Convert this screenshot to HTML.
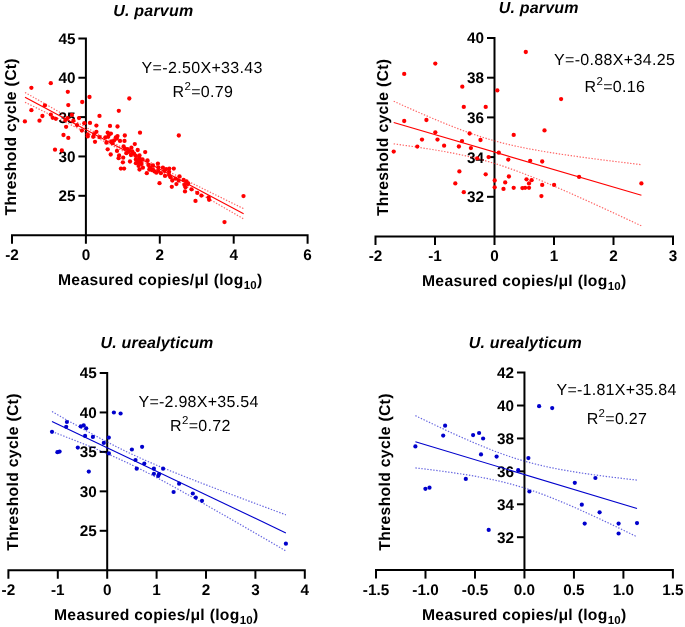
<!DOCTYPE html>
<html><head><meta charset="utf-8"><style>html,body{margin:0;padding:0;background:#fff;}svg{display:block;will-change:transform;}</style></head>
<body><svg width="685" height="627" viewBox="0 0 685 627" font-family="'Liberation Sans', sans-serif" text-rendering="geometricPrecision"><path d="M78.40,38.40H85.90V243.65" fill="none" stroke="#000" stroke-width="2"/>
<path d="M12.00,243.65V235.15H307.60V243.65" fill="none" stroke="#000" stroke-width="2"/>
<path d="M78.40,195.80H85.90" stroke="#000" stroke-width="2"/>
<path d="M78.40,156.45H85.90" stroke="#000" stroke-width="2"/>
<path d="M78.40,117.10H85.90" stroke="#000" stroke-width="2"/>
<path d="M78.40,77.75H85.90" stroke="#000" stroke-width="2"/>
<path d="M159.80,235.15V243.65" stroke="#000" stroke-width="2"/>
<path d="M233.70,235.15V243.65" stroke="#000" stroke-width="2"/>
<text x="75.40" y="201.20" text-anchor="end" font-weight="bold" font-size="15.3">25</text>
<text x="75.40" y="161.85" text-anchor="end" font-weight="bold" font-size="15.3">30</text>
<text x="75.40" y="122.50" text-anchor="end" font-weight="bold" font-size="15.3">35</text>
<text x="75.40" y="83.15" text-anchor="end" font-weight="bold" font-size="15.3">40</text>
<text x="75.40" y="43.80" text-anchor="end" font-weight="bold" font-size="15.3">45</text>
<text x="12.00" y="260.15" text-anchor="middle" font-weight="bold" font-size="15.3">-2</text>
<text x="85.90" y="260.15" text-anchor="middle" font-weight="bold" font-size="15.3">0</text>
<text x="159.80" y="260.15" text-anchor="middle" font-weight="bold" font-size="15.3">2</text>
<text x="233.70" y="260.15" text-anchor="middle" font-weight="bold" font-size="15.3">4</text>
<text x="307.60" y="260.15" text-anchor="middle" font-weight="bold" font-size="15.3">6</text>
<text x="58.00" y="285.40" font-weight="bold" font-size="15.7" letter-spacing="0.3">Measured copies/μl (log<tspan font-size="11.5" dy="3.5">10</tspan><tspan dy="-3.5">)</tspan></text>
<text transform="translate(16.40,136.80) rotate(-90)" x="0" y="0" text-anchor="middle" font-weight="bold" font-size="15.7" letter-spacing="0.33">Threshold cycle (Ct)</text>
<text x="153.30" y="15.50" text-anchor="middle" font-weight="bold" font-style="italic" font-size="16" letter-spacing="0.2">U. parvum</text>
<text x="141.60" y="73.20" font-size="16" letter-spacing="0.33">Y=-2.50X+33.43</text>
<text x="172.60" y="96.80" font-size="16" letter-spacing="0.3">R<tspan font-size="11.5" dy="-7.3">2</tspan><tspan dy="7.3">=0.79</tspan></text>
<polyline points="25.00,92.42 28.64,94.51 32.29,96.60 35.93,98.69 39.57,100.78 43.22,102.87 46.86,104.96 50.50,107.04 54.15,109.13 57.79,111.22 61.43,113.30 65.08,115.38 68.72,117.46 72.36,119.54 76.01,121.62 79.65,123.69 83.29,125.76 86.94,127.83 90.58,129.90 94.22,131.96 97.87,134.01 101.51,136.06 105.15,138.10 108.80,140.14 112.44,142.16 116.08,144.17 119.73,146.17 123.37,148.16 127.01,150.13 130.66,152.09 134.30,154.02 137.94,155.95 141.59,157.85 145.23,159.74 148.87,161.62 152.52,163.48 156.16,165.34 159.80,167.18 163.45,169.02 167.09,170.85 170.73,172.67 174.38,174.49 178.02,176.30 181.66,178.12 185.31,179.92 188.95,181.73 192.59,183.53 196.24,185.33 199.88,187.13 203.52,188.93 207.17,190.72 210.81,192.52 214.45,194.31 218.10,196.11 221.74,197.90 225.38,199.69 229.03,201.48 232.67,203.27 236.31,205.06 239.96,206.85 243.60,208.64" fill="none" stroke="#ff0000" stroke-width="1.2" stroke-dasharray="1.4 1.6" opacity="0.6"/>
<polyline points="25.00,102.24 28.64,104.02 32.29,105.81 35.93,107.60 39.57,109.39 43.22,111.19 46.86,112.98 50.50,114.77 54.15,116.57 57.79,118.36 61.43,120.16 65.08,121.95 68.72,123.75 72.36,125.56 76.01,127.36 79.65,129.16 83.29,130.97 86.94,132.78 90.58,134.60 94.22,136.42 97.87,138.24 101.51,140.08 105.15,141.91 108.80,143.76 112.44,145.62 116.08,147.48 119.73,149.36 123.37,151.26 127.01,153.16 130.66,155.09 134.30,157.03 137.94,158.99 141.59,160.96 145.23,162.95 148.87,164.96 152.52,166.97 156.16,169.00 159.80,171.03 163.45,173.08 167.09,175.13 170.73,177.18 174.38,179.25 178.02,181.31 181.66,183.38 185.31,185.45 188.95,187.53 192.59,189.60 196.24,191.68 199.88,193.76 203.52,195.85 207.17,197.93 210.81,200.02 214.45,202.10 218.10,204.19 221.74,206.28 225.38,208.37 229.03,210.46 232.67,212.55 236.31,214.64 239.96,216.73 243.60,218.82" fill="none" stroke="#ff0000" stroke-width="1.2" stroke-dasharray="1.4 1.6" opacity="0.6"/>
<path d="M25.00,97.33L243.60,213.73" stroke="#ff0000" stroke-width="1.1"/>
<g fill="#ff0000"><circle cx="31.4" cy="87.8" r="2.15"/><circle cx="50.8" cy="83.2" r="2.15"/><circle cx="67.8" cy="91.8" r="2.15"/><circle cx="89.5" cy="97.0" r="2.15"/><circle cx="82.2" cy="102.0" r="2.15"/><circle cx="68.3" cy="105.1" r="2.15"/><circle cx="44.9" cy="105.4" r="2.15"/><circle cx="31.4" cy="110.2" r="2.15"/><circle cx="42.4" cy="116.0" r="2.15"/><circle cx="50.8" cy="114.6" r="2.15"/><circle cx="52.7" cy="117.8" r="2.15"/><circle cx="55.9" cy="118.8" r="2.15"/><circle cx="24.9" cy="121.4" r="2.15"/><circle cx="39.5" cy="120.7" r="2.15"/><circle cx="71.9" cy="114.9" r="2.15"/><circle cx="67.6" cy="118.1" r="2.15"/><circle cx="65.4" cy="120.0" r="2.15"/><circle cx="73.4" cy="120.7" r="2.15"/><circle cx="79.0" cy="118.1" r="2.15"/><circle cx="84.3" cy="123.2" r="2.15"/><circle cx="77.0" cy="125.1" r="2.15"/><circle cx="66.1" cy="126.8" r="2.15"/><circle cx="81.9" cy="130.6" r="2.15"/><circle cx="63.5" cy="135.0" r="2.15"/><circle cx="68.3" cy="137.9" r="2.15"/><circle cx="55.0" cy="149.7" r="2.15"/><circle cx="61.8" cy="150.5" r="2.15"/><circle cx="129.3" cy="98.5" r="2.15"/><circle cx="118.8" cy="110.8" r="2.15"/><circle cx="99.5" cy="115.9" r="2.15"/><circle cx="90.0" cy="122.9" r="2.15"/><circle cx="96.4" cy="125.6" r="2.15"/><circle cx="110.0" cy="125.9" r="2.15"/><circle cx="117.5" cy="126.5" r="2.15"/><circle cx="140.0" cy="132.7" r="2.15"/><circle cx="96.4" cy="131.8" r="2.15"/><circle cx="87.7" cy="134.5" r="2.15"/><circle cx="87.7" cy="136.4" r="2.15"/><circle cx="93.2" cy="136.8" r="2.15"/><circle cx="94.1" cy="134.1" r="2.15"/><circle cx="99.5" cy="137.1" r="2.15"/><circle cx="95.0" cy="141.8" r="2.15"/><circle cx="107.7" cy="132.7" r="2.15"/><circle cx="110.9" cy="133.6" r="2.15"/><circle cx="109.1" cy="134.5" r="2.15"/><circle cx="105.5" cy="137.3" r="2.15"/><circle cx="108.2" cy="136.8" r="2.15"/><circle cx="117.5" cy="136.1" r="2.15"/><circle cx="124.8" cy="135.5" r="2.15"/><circle cx="120.0" cy="140.9" r="2.15"/><circle cx="124.5" cy="140.9" r="2.15"/><circle cx="106.4" cy="142.7" r="2.15"/><circle cx="111.4" cy="141.4" r="2.15"/><circle cx="114.1" cy="140.5" r="2.15"/><circle cx="116.8" cy="138.6" r="2.15"/><circle cx="112.3" cy="143.2" r="2.15"/><circle cx="134.8" cy="144.1" r="2.15"/><circle cx="107.7" cy="149.3" r="2.15"/><circle cx="110.7" cy="154.5" r="2.15"/><circle cx="117.0" cy="150.9" r="2.15"/><circle cx="119.1" cy="155.5" r="2.15"/><circle cx="118.6" cy="158.2" r="2.15"/><circle cx="123.2" cy="157.7" r="2.15"/><circle cx="122.9" cy="162.3" r="2.15"/><circle cx="120.9" cy="168.6" r="2.15"/><circle cx="124.1" cy="168.6" r="2.15"/><circle cx="130.0" cy="161.5" r="2.15"/><circle cx="123.6" cy="146.4" r="2.15"/><circle cx="125.0" cy="148.6" r="2.15"/><circle cx="127.7" cy="149.1" r="2.15"/><circle cx="131.4" cy="147.7" r="2.15"/><circle cx="129.5" cy="150.9" r="2.15"/><circle cx="126.4" cy="153.2" r="2.15"/><circle cx="132.3" cy="151.4" r="2.15"/><circle cx="134.1" cy="153.6" r="2.15"/><circle cx="137.7" cy="150.0" r="2.15"/><circle cx="130.9" cy="155.0" r="2.15"/><circle cx="135.9" cy="155.9" r="2.15"/><circle cx="139.5" cy="155.5" r="2.15"/><circle cx="135.9" cy="159.5" r="2.15"/><circle cx="139.5" cy="158.6" r="2.15"/><circle cx="135.9" cy="163.2" r="2.15"/><circle cx="138.6" cy="162.3" r="2.15"/><circle cx="140.5" cy="161.4" r="2.15"/><circle cx="138.6" cy="165.9" r="2.15"/><circle cx="139.5" cy="169.5" r="2.15"/><circle cx="115.9" cy="137.3" r="2.15"/><circle cx="178.8" cy="135.5" r="2.15"/><circle cx="145.2" cy="152.1" r="2.15"/><circle cx="142.5" cy="159.5" r="2.15"/><circle cx="147.5" cy="160.5" r="2.15"/><circle cx="142.9" cy="167.7" r="2.15"/><circle cx="148.4" cy="165.0" r="2.15"/><circle cx="152.9" cy="165.5" r="2.15"/><circle cx="157.9" cy="163.6" r="2.15"/><circle cx="158.4" cy="167.3" r="2.15"/><circle cx="162.9" cy="167.7" r="2.15"/><circle cx="166.1" cy="169.1" r="2.15"/><circle cx="169.3" cy="168.6" r="2.15"/><circle cx="173.8" cy="168.6" r="2.15"/><circle cx="152.9" cy="169.5" r="2.15"/><circle cx="149.3" cy="169.5" r="2.15"/><circle cx="146.8" cy="173.2" r="2.15"/><circle cx="156.4" cy="172.7" r="2.15"/><circle cx="154.5" cy="171.4" r="2.15"/><circle cx="158.2" cy="170.9" r="2.15"/><circle cx="160.9" cy="173.2" r="2.15"/><circle cx="165.0" cy="175.9" r="2.15"/><circle cx="159.5" cy="183.2" r="2.15"/><circle cx="169.1" cy="175.0" r="2.15"/><circle cx="170.5" cy="177.3" r="2.15"/><circle cx="172.3" cy="180.5" r="2.15"/><circle cx="175.5" cy="178.6" r="2.15"/><circle cx="179.5" cy="176.4" r="2.15"/><circle cx="178.6" cy="180.5" r="2.15"/><circle cx="176.4" cy="184.1" r="2.15"/><circle cx="171.8" cy="186.8" r="2.15"/><circle cx="183.6" cy="180.0" r="2.15"/><circle cx="184.5" cy="185.0" r="2.15"/><circle cx="185.0" cy="191.4" r="2.15"/><circle cx="169.1" cy="171.8" r="2.15"/><circle cx="164.5" cy="170.9" r="2.15"/><circle cx="150.0" cy="167.3" r="2.15"/><circle cx="151.8" cy="170.0" r="2.15"/><circle cx="185.5" cy="187.3" r="2.15"/><circle cx="188.2" cy="183.6" r="2.15"/><circle cx="187.7" cy="184.1" r="2.15"/><circle cx="186.5" cy="181.5" r="2.15"/><circle cx="191.5" cy="189.3" r="2.15"/><circle cx="197.3" cy="192.9" r="2.15"/><circle cx="201.4" cy="195.6" r="2.15"/><circle cx="208.6" cy="197.3" r="2.15"/><circle cx="209.1" cy="199.8" r="2.15"/><circle cx="195.5" cy="200.9" r="2.15"/><circle cx="243.5" cy="196.1" r="2.15"/><circle cx="224.5" cy="222.1" r="2.15"/><circle cx="137.8" cy="160.5" r="2.15"/><circle cx="141.5" cy="164.0" r="2.15"/><circle cx="128.0" cy="151.8" r="2.15"/></g>
<path d="M487.00,38.00H494.50V245.00" fill="none" stroke="#000" stroke-width="2"/>
<path d="M375.50,245.00V236.50H673.00V245.00" fill="none" stroke="#000" stroke-width="2"/>
<path d="M487.00,196.80H494.50" stroke="#000" stroke-width="2"/>
<path d="M487.00,157.10H494.50" stroke="#000" stroke-width="2"/>
<path d="M487.00,117.40H494.50" stroke="#000" stroke-width="2"/>
<path d="M487.00,77.70H494.50" stroke="#000" stroke-width="2"/>
<path d="M435.00,236.50V245.00" stroke="#000" stroke-width="2"/>
<path d="M554.00,236.50V245.00" stroke="#000" stroke-width="2"/>
<path d="M613.50,236.50V245.00" stroke="#000" stroke-width="2"/>
<text x="484.00" y="202.20" text-anchor="end" font-weight="bold" font-size="15.3">32</text>
<text x="484.00" y="162.50" text-anchor="end" font-weight="bold" font-size="15.3">34</text>
<text x="484.00" y="122.80" text-anchor="end" font-weight="bold" font-size="15.3">36</text>
<text x="484.00" y="83.10" text-anchor="end" font-weight="bold" font-size="15.3">38</text>
<text x="484.00" y="43.40" text-anchor="end" font-weight="bold" font-size="15.3">40</text>
<text x="375.50" y="260.80" text-anchor="middle" font-weight="bold" font-size="15.3">-2</text>
<text x="435.00" y="260.80" text-anchor="middle" font-weight="bold" font-size="15.3">-1</text>
<text x="494.50" y="260.80" text-anchor="middle" font-weight="bold" font-size="15.3">0</text>
<text x="554.00" y="260.80" text-anchor="middle" font-weight="bold" font-size="15.3">1</text>
<text x="613.50" y="260.80" text-anchor="middle" font-weight="bold" font-size="15.3">2</text>
<text x="673.00" y="260.80" text-anchor="middle" font-weight="bold" font-size="15.3">3</text>
<text x="422.00" y="286.40" font-weight="bold" font-size="15.7" letter-spacing="0.3">Measured copies/μl (log<tspan font-size="11.5" dy="3.5">10</tspan><tspan dy="-3.5">)</tspan></text>
<text transform="translate(387.50,137.40) rotate(-90)" x="0" y="0" text-anchor="middle" font-weight="bold" font-size="15.7" letter-spacing="0.33">Threshold cycle (Ct)</text>
<text x="538.70" y="13.40" text-anchor="middle" font-weight="bold" font-style="italic" font-size="16" letter-spacing="0.2">U. parvum</text>
<text x="554.00" y="65.20" font-size="16" letter-spacing="0.33">Y=-0.88X+34.25</text>
<text x="584.60" y="92.20" font-size="16" letter-spacing="0.3">R<tspan font-size="11.5" dy="-7.3">2</tspan><tspan dy="7.3">=0.16</tspan></text>
<polyline points="393.70,101.25 397.83,103.12 401.96,104.97 406.08,106.82 410.21,108.66 414.34,110.48 418.47,112.30 422.60,114.09 426.73,115.88 430.85,117.64 434.98,119.39 439.11,121.11 443.24,122.81 447.37,124.49 451.50,126.13 455.62,127.75 459.75,129.33 463.88,130.87 468.01,132.37 472.14,133.82 476.27,135.23 480.39,136.59 484.52,137.90 488.65,139.15 492.78,140.35 496.91,141.50 501.04,142.60 505.16,143.65 509.29,144.64 513.42,145.59 517.55,146.50 521.68,147.37 525.81,148.20 529.93,149.00 534.06,149.77 538.19,150.50 542.32,151.22 546.45,151.91 550.58,152.58 554.70,153.23 558.83,153.87 562.96,154.49 567.09,155.09 571.22,155.69 575.35,156.27 579.47,156.84 583.60,157.40 587.73,157.96 591.86,158.51 595.99,159.05 600.12,159.58 604.25,160.11 608.37,160.63 612.50,161.15 616.63,161.66 620.76,162.17 624.89,162.68 629.01,163.18 633.14,163.68 637.27,164.17 641.40,164.67" fill="none" stroke="#ff0000" stroke-width="1.2" stroke-dasharray="1.4 1.6" opacity="0.6"/>
<polyline points="393.70,143.84 397.83,144.40 401.96,144.96 406.08,145.54 410.21,146.13 414.34,146.73 418.47,147.34 422.60,147.96 426.73,148.60 430.85,149.26 434.98,149.94 439.11,150.64 443.24,151.36 447.37,152.11 451.50,152.89 455.62,153.70 459.75,154.55 463.88,155.43 468.01,156.35 472.14,157.32 476.27,158.34 480.39,159.40 484.52,160.52 488.65,161.69 492.78,162.91 496.91,164.19 501.04,165.51 505.16,166.89 509.29,168.32 513.42,169.79 517.55,171.31 521.68,172.86 525.81,174.46 529.93,176.08 534.06,177.74 538.19,179.42 542.32,181.13 546.45,182.87 550.58,184.62 554.70,186.39 558.83,188.18 562.96,189.99 567.09,191.80 571.22,193.63 575.35,195.48 579.47,197.33 583.60,199.19 587.73,201.06 591.86,202.93 595.99,204.82 600.12,206.71 604.25,208.60 608.37,210.50 612.50,212.41 616.63,214.32 620.76,216.24 624.89,218.15 629.01,220.08 633.14,222.00 637.27,223.93 641.40,225.86" fill="none" stroke="#ff0000" stroke-width="1.2" stroke-dasharray="1.4 1.6" opacity="0.6"/>
<path d="M393.70,122.54L641.40,195.26" stroke="#ff0000" stroke-width="1.1"/>
<g fill="#ff0000"><circle cx="435.3" cy="63.6" r="2.15"/><circle cx="404.2" cy="73.9" r="2.15"/><circle cx="462.3" cy="86.7" r="2.15"/><circle cx="463.8" cy="106.9" r="2.15"/><circle cx="404.2" cy="121.0" r="2.15"/><circle cx="426.4" cy="120.0" r="2.15"/><circle cx="435.3" cy="132.3" r="2.15"/><circle cx="469.6" cy="133.5" r="2.15"/><circle cx="422.0" cy="139.6" r="2.15"/><circle cx="437.5" cy="139.6" r="2.15"/><circle cx="462.0" cy="141.1" r="2.15"/><circle cx="417.3" cy="146.6" r="2.15"/><circle cx="444.1" cy="145.7" r="2.15"/><circle cx="458.9" cy="146.5" r="2.15"/><circle cx="470.9" cy="148.1" r="2.15"/><circle cx="393.7" cy="151.6" r="2.15"/><circle cx="459.4" cy="171.4" r="2.15"/><circle cx="455.3" cy="183.4" r="2.15"/><circle cx="463.8" cy="192.2" r="2.15"/><circle cx="525.8" cy="52.0" r="2.15"/><circle cx="497.3" cy="90.4" r="2.15"/><circle cx="485.7" cy="106.9" r="2.15"/><circle cx="561.1" cy="99.1" r="2.15"/><circle cx="544.5" cy="130.4" r="2.15"/><circle cx="513.7" cy="134.9" r="2.15"/><circle cx="480.5" cy="140.0" r="2.15"/><circle cx="498.8" cy="152.7" r="2.15"/><circle cx="488.6" cy="157.1" r="2.15"/><circle cx="477.2" cy="158.3" r="2.15"/><circle cx="508.3" cy="159.6" r="2.15"/><circle cx="530.2" cy="160.8" r="2.15"/><circle cx="542.2" cy="161.5" r="2.15"/><circle cx="485.7" cy="174.3" r="2.15"/><circle cx="508.9" cy="176.5" r="2.15"/><circle cx="494.7" cy="180.5" r="2.15"/><circle cx="505.2" cy="182.4" r="2.15"/><circle cx="526.5" cy="179.3" r="2.15"/><circle cx="531.6" cy="180.2" r="2.15"/><circle cx="529.0" cy="183.4" r="2.15"/><circle cx="542.2" cy="184.9" r="2.15"/><circle cx="554.1" cy="184.9" r="2.15"/><circle cx="494.7" cy="187.3" r="2.15"/><circle cx="503.5" cy="188.9" r="2.15"/><circle cx="513.7" cy="187.8" r="2.15"/><circle cx="522.4" cy="188.1" r="2.15"/><circle cx="525.1" cy="187.8" r="2.15"/><circle cx="529.0" cy="187.8" r="2.15"/><circle cx="541.4" cy="196.1" r="2.15"/><circle cx="579.1" cy="176.9" r="2.15"/><circle cx="641.4" cy="183.4" r="2.15"/></g>
<path d="M99.70,373.00H107.20V578.75" fill="none" stroke="#000" stroke-width="2"/>
<path d="M8.40,578.75V570.25H304.80V578.75" fill="none" stroke="#000" stroke-width="2"/>
<path d="M99.70,530.80H107.20" stroke="#000" stroke-width="2"/>
<path d="M99.70,491.35H107.20" stroke="#000" stroke-width="2"/>
<path d="M99.70,451.90H107.20" stroke="#000" stroke-width="2"/>
<path d="M99.70,412.45H107.20" stroke="#000" stroke-width="2"/>
<path d="M57.80,570.25V578.75" stroke="#000" stroke-width="2"/>
<path d="M156.60,570.25V578.75" stroke="#000" stroke-width="2"/>
<path d="M206.00,570.25V578.75" stroke="#000" stroke-width="2"/>
<path d="M255.40,570.25V578.75" stroke="#000" stroke-width="2"/>
<text x="96.70" y="536.20" text-anchor="end" font-weight="bold" font-size="15.3">25</text>
<text x="96.70" y="496.75" text-anchor="end" font-weight="bold" font-size="15.3">30</text>
<text x="96.70" y="457.30" text-anchor="end" font-weight="bold" font-size="15.3">35</text>
<text x="96.70" y="417.85" text-anchor="end" font-weight="bold" font-size="15.3">40</text>
<text x="96.70" y="378.40" text-anchor="end" font-weight="bold" font-size="15.3">45</text>
<text x="8.40" y="595.25" text-anchor="middle" font-weight="bold" font-size="15.3">-2</text>
<text x="57.80" y="595.25" text-anchor="middle" font-weight="bold" font-size="15.3">-1</text>
<text x="107.20" y="595.25" text-anchor="middle" font-weight="bold" font-size="15.3">0</text>
<text x="156.60" y="595.25" text-anchor="middle" font-weight="bold" font-size="15.3">1</text>
<text x="206.00" y="595.25" text-anchor="middle" font-weight="bold" font-size="15.3">2</text>
<text x="255.40" y="595.25" text-anchor="middle" font-weight="bold" font-size="15.3">3</text>
<text x="304.80" y="595.25" text-anchor="middle" font-weight="bold" font-size="15.3">4</text>
<text x="54.00" y="620.40" font-weight="bold" font-size="15.7" letter-spacing="0.3">Measured copies/μl (log<tspan font-size="11.5" dy="3.5">10</tspan><tspan dy="-3.5">)</tspan></text>
<text transform="translate(17.60,472.00) rotate(-90)" x="0" y="0" text-anchor="middle" font-weight="bold" font-size="15.7" letter-spacing="0.33">Threshold cycle (Ct)</text>
<text x="157.00" y="347.60" text-anchor="middle" font-weight="bold" font-style="italic" font-size="16" letter-spacing="0.2">U. urealyticum</text>
<text x="138.50" y="407.00" font-size="16" letter-spacing="0.25">Y=-2.98X+35.54</text>
<text x="170.10" y="431.00" font-size="16" letter-spacing="0.3">R<tspan font-size="11.5" dy="-7.3">2</tspan><tspan dy="7.3">=0.72</tspan></text>
<polyline points="52.00,411.60 55.90,413.81 59.80,416.02 63.70,418.22 67.59,420.41 71.49,422.60 75.39,424.77 79.29,426.94 83.19,429.09 87.08,431.23 90.98,433.35 94.88,435.46 98.78,437.55 102.68,439.61 106.58,441.66 110.47,443.67 114.37,445.66 118.27,447.62 122.17,449.55 126.07,451.45 129.97,453.31 133.86,455.13 137.76,456.93 141.66,458.69 145.56,460.42 149.46,462.12 153.36,463.80 157.25,465.45 161.15,467.08 165.05,468.69 168.95,470.28 172.85,471.86 176.75,473.42 180.64,474.97 184.54,476.51 188.44,478.04 192.34,479.56 196.24,481.07 200.14,482.58 204.03,484.08 207.93,485.57 211.83,487.06 215.73,488.55 219.63,490.03 223.53,491.51 227.43,492.98 231.32,494.45 235.22,495.92 239.12,497.39 243.02,498.85 246.92,500.31 250.81,501.77 254.71,503.23 258.61,504.69 262.51,506.14 266.41,507.60 270.31,509.05 274.20,510.50 278.10,511.95 282.00,513.40 285.90,514.85" fill="none" stroke="#0000cc" stroke-width="1.2" stroke-dasharray="1.4 1.6" opacity="0.6"/>
<polyline points="52.00,431.53 55.90,433.03 59.80,434.53 63.70,436.04 67.59,437.56 71.49,439.09 75.39,440.63 79.29,442.17 83.19,443.73 87.08,445.30 90.98,446.89 94.88,448.49 98.78,450.12 102.68,451.76 106.58,453.43 110.47,455.12 114.37,456.84 118.27,458.59 122.17,460.38 126.07,462.19 129.97,464.04 133.86,465.93 137.76,467.85 141.66,469.79 145.56,471.77 149.46,473.78 153.36,475.82 157.25,477.88 161.15,479.96 165.05,482.06 168.95,484.18 172.85,486.31 176.75,488.46 180.64,490.62 184.54,492.79 188.44,494.98 192.34,497.17 196.24,499.36 200.14,501.57 204.03,503.78 207.93,505.99 211.83,508.22 215.73,510.44 219.63,512.67 223.53,514.90 227.43,517.14 231.32,519.38 235.22,521.62 239.12,523.87 243.02,526.11 246.92,528.36 250.81,530.61 254.71,532.87 258.61,535.12 262.51,537.38 266.41,539.63 270.31,541.89 274.20,544.15 278.10,546.41 282.00,548.68 285.90,550.94" fill="none" stroke="#0000cc" stroke-width="1.2" stroke-dasharray="1.4 1.6" opacity="0.6"/>
<path d="M52.00,421.57L285.90,532.89" stroke="#0000cc" stroke-width="1.1"/>
<g fill="#0000cc"><circle cx="113.9" cy="412.5" r="2.1"/><circle cx="120.6" cy="413.5" r="2.1"/><circle cx="66.9" cy="422.0" r="2.1"/><circle cx="66.2" cy="426.8" r="2.1"/><circle cx="52.0" cy="431.8" r="2.1"/><circle cx="80.8" cy="426.4" r="2.1"/><circle cx="83.7" cy="425.4" r="2.1"/><circle cx="86.2" cy="428.3" r="2.1"/><circle cx="85.1" cy="435.9" r="2.1"/><circle cx="92.9" cy="436.9" r="2.1"/><circle cx="108.8" cy="437.6" r="2.1"/><circle cx="103.8" cy="442.9" r="2.1"/><circle cx="77.8" cy="447.6" r="2.1"/><circle cx="57.4" cy="452.2" r="2.1"/><circle cx="59.6" cy="451.6" r="2.1"/><circle cx="108.9" cy="453.4" r="2.1"/><circle cx="131.9" cy="449.5" r="2.1"/><circle cx="142.1" cy="446.8" r="2.1"/><circle cx="135.5" cy="460.0" r="2.1"/><circle cx="136.7" cy="468.7" r="2.1"/><circle cx="144.3" cy="463.6" r="2.1"/><circle cx="88.8" cy="471.6" r="2.1"/><circle cx="153.9" cy="468.7" r="2.1"/><circle cx="163.1" cy="468.7" r="2.1"/><circle cx="153.9" cy="473.8" r="2.1"/><circle cx="159.0" cy="474.2" r="2.1"/><circle cx="158.2" cy="476.0" r="2.1"/><circle cx="179.1" cy="483.7" r="2.1"/><circle cx="173.6" cy="492.0" r="2.1"/><circle cx="192.8" cy="493.5" r="2.1"/><circle cx="195.8" cy="497.6" r="2.1"/><circle cx="202.0" cy="500.8" r="2.1"/><circle cx="285.9" cy="543.7" r="2.1"/></g>
<path d="M516.95,372.60H524.45V578.62" fill="none" stroke="#000" stroke-width="2"/>
<path d="M376.01,578.62V570.12H672.89V578.62" fill="none" stroke="#000" stroke-width="2"/>
<path d="M516.95,537.20H524.45" stroke="#000" stroke-width="2"/>
<path d="M516.95,504.28H524.45" stroke="#000" stroke-width="2"/>
<path d="M516.95,471.36H524.45" stroke="#000" stroke-width="2"/>
<path d="M516.95,438.44H524.45" stroke="#000" stroke-width="2"/>
<path d="M516.95,405.52H524.45" stroke="#000" stroke-width="2"/>
<path d="M425.49,570.12V578.62" stroke="#000" stroke-width="2"/>
<path d="M474.97,570.12V578.62" stroke="#000" stroke-width="2"/>
<path d="M573.93,570.12V578.62" stroke="#000" stroke-width="2"/>
<path d="M623.41,570.12V578.62" stroke="#000" stroke-width="2"/>
<text x="513.95" y="542.60" text-anchor="end" font-weight="bold" font-size="15.3">32</text>
<text x="513.95" y="509.68" text-anchor="end" font-weight="bold" font-size="15.3">34</text>
<text x="513.95" y="476.76" text-anchor="end" font-weight="bold" font-size="15.3">36</text>
<text x="513.95" y="443.84" text-anchor="end" font-weight="bold" font-size="15.3">38</text>
<text x="513.95" y="410.92" text-anchor="end" font-weight="bold" font-size="15.3">40</text>
<text x="513.95" y="378.00" text-anchor="end" font-weight="bold" font-size="15.3">42</text>
<text x="376.01" y="595.12" text-anchor="middle" font-weight="bold" font-size="15.3">-1.5</text>
<text x="425.49" y="595.12" text-anchor="middle" font-weight="bold" font-size="15.3">-1.0</text>
<text x="474.97" y="595.12" text-anchor="middle" font-weight="bold" font-size="15.3">-0.5</text>
<text x="524.45" y="595.12" text-anchor="middle" font-weight="bold" font-size="15.3">0.0</text>
<text x="573.93" y="595.12" text-anchor="middle" font-weight="bold" font-size="15.3">0.5</text>
<text x="623.41" y="595.12" text-anchor="middle" font-weight="bold" font-size="15.3">1.0</text>
<text x="672.89" y="595.12" text-anchor="middle" font-weight="bold" font-size="15.3">1.5</text>
<text x="422.00" y="620.40" font-weight="bold" font-size="15.7" letter-spacing="0.3">Measured copies/μl (log<tspan font-size="11.5" dy="3.5">10</tspan><tspan dy="-3.5">)</tspan></text>
<text transform="translate(389.80,472.00) rotate(-90)" x="0" y="0" text-anchor="middle" font-weight="bold" font-size="15.7" letter-spacing="0.33">Threshold cycle (Ct)</text>
<text x="525.30" y="347.60" text-anchor="middle" font-weight="bold" font-style="italic" font-size="16" letter-spacing="0.2">U. urealyticum</text>
<text x="556.50" y="395.00" font-size="16" letter-spacing="0.25">Y=-1.81X+35.84</text>
<text x="586.70" y="424.40" font-size="16" letter-spacing="0.3">R<tspan font-size="11.5" dy="-7.3">2</tspan><tspan dy="7.3">=0.27</tspan></text>
<polyline points="415.40,415.66 419.09,417.44 422.79,419.22 426.48,420.99 430.17,422.76 433.87,424.51 437.56,426.26 441.25,427.99 444.95,429.72 448.64,431.43 452.33,433.13 456.03,434.81 459.72,436.48 463.41,438.13 467.11,439.76 470.80,441.37 474.49,442.96 478.19,444.52 481.88,446.06 485.57,447.57 489.27,449.05 492.96,450.49 496.65,451.90 500.35,453.27 504.04,454.59 507.73,455.88 511.43,457.12 515.12,458.32 518.81,459.47 522.51,460.58 526.20,461.64 529.89,462.65 533.59,463.62 537.28,464.55 540.97,465.43 544.67,466.28 548.36,467.08 552.05,467.85 555.75,468.59 559.44,469.30 563.13,469.98 566.83,470.63 570.52,471.26 574.21,471.87 577.91,472.45 581.60,473.02 585.29,473.57 588.99,474.11 592.68,474.63 596.37,475.14 600.07,475.64 603.76,476.12 607.45,476.60 611.15,477.07 614.84,477.52 618.53,477.97 622.23,478.42 625.92,478.85 629.61,479.28 633.31,479.71 637.00,480.13" fill="none" stroke="#0000cc" stroke-width="1.2" stroke-dasharray="1.4 1.6" opacity="0.6"/>
<polyline points="415.40,467.87 419.09,468.31 422.79,468.75 426.48,469.21 430.17,469.67 433.87,470.13 437.56,470.61 441.25,471.10 444.95,471.60 448.64,472.11 452.33,472.64 456.03,473.18 459.72,473.73 463.41,474.31 467.11,474.90 470.80,475.51 474.49,476.15 478.19,476.81 481.88,477.50 485.57,478.21 489.27,478.96 492.96,479.74 496.65,480.55 500.35,481.41 504.04,482.30 507.73,483.24 511.43,484.22 515.12,485.25 518.81,486.32 522.51,487.44 526.20,488.60 529.89,489.81 533.59,491.07 537.28,492.36 540.97,493.70 544.67,495.08 548.36,496.50 552.05,497.95 555.75,499.44 559.44,500.96 563.13,502.50 566.83,504.07 570.52,505.67 574.21,507.28 577.91,508.92 581.60,510.57 585.29,512.25 588.99,513.93 592.68,515.64 596.37,517.35 600.07,519.08 603.76,520.82 607.45,522.57 611.15,524.32 614.84,526.09 618.53,527.86 622.23,529.64 625.92,531.43 629.61,533.22 633.31,535.02 637.00,536.83" fill="none" stroke="#0000cc" stroke-width="1.2" stroke-dasharray="1.4 1.6" opacity="0.6"/>
<path d="M415.40,441.76L637.00,508.48" stroke="#0000cc" stroke-width="1.1"/>
<g fill="#0000cc"><circle cx="445.1" cy="425.7" r="2.1"/><circle cx="443.2" cy="435.6" r="2.1"/><circle cx="473.1" cy="435.1" r="2.1"/><circle cx="415.4" cy="446.4" r="2.1"/><circle cx="465.8" cy="478.9" r="2.1"/><circle cx="425.4" cy="488.8" r="2.1"/><circle cx="429.5" cy="487.7" r="2.1"/><circle cx="539.1" cy="406.2" r="2.1"/><circle cx="552.2" cy="408.1" r="2.1"/><circle cx="479.1" cy="433.0" r="2.1"/><circle cx="483.1" cy="438.5" r="2.1"/><circle cx="481.0" cy="454.4" r="2.1"/><circle cx="496.6" cy="456.6" r="2.1"/><circle cx="528.4" cy="458.1" r="2.1"/><circle cx="518.2" cy="470.2" r="2.1"/><circle cx="529.4" cy="491.5" r="2.1"/><circle cx="488.7" cy="529.9" r="2.1"/><circle cx="574.8" cy="482.8" r="2.1"/><circle cx="595.4" cy="478.0" r="2.1"/><circle cx="581.8" cy="504.7" r="2.1"/><circle cx="599.6" cy="512.3" r="2.1"/><circle cx="584.7" cy="523.6" r="2.1"/><circle cx="618.6" cy="523.6" r="2.1"/><circle cx="618.6" cy="533.5" r="2.1"/><circle cx="637.0" cy="523.1" r="2.1"/></g></svg></body></html>
